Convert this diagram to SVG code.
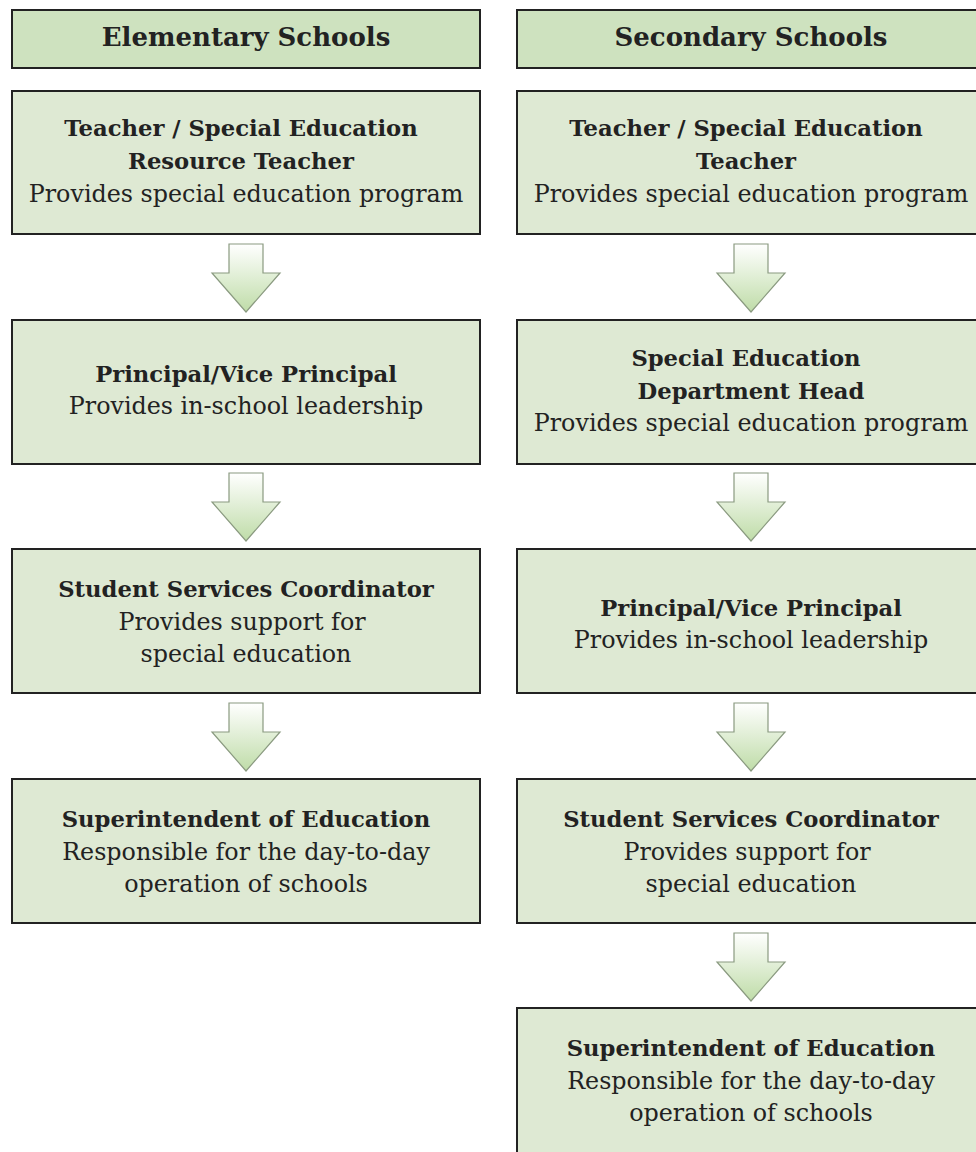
<svg xmlns="http://www.w3.org/2000/svg" width="976" height="1152" viewBox="0 0 976 1152">
<style>
.hdr{fill:#cee2bf;stroke:#222;stroke-width:2}
.box{fill:#dee9d3;stroke:#222;stroke-width:2}
text{font-family:"DejaVu Serif","Liberation Serif",serif;font-size:23.8px;fill:#222;text-anchor:middle}
.b{font-weight:bold;font-size:22.7px}
.h{font-weight:bold;font-size:26px}
.arr{fill:url(#g);stroke:#8a9a80;stroke-width:1.2}
</style>
<defs>
<linearGradient id="g" x1="0" y1="0" x2="0" y2="1">
<stop offset="0" stop-color="#ffffff"/>
<stop offset="1" stop-color="#bfdca8"/>
</linearGradient>
<path id="a" d="M-17,0 H17 V29 H34 L0,68 L-34,29 H-17 Z"/>
</defs>
<rect width="976" height="1152" fill="#fff"/>
<g id="connectors">
<use href="#a" class="arr" x="246" y="244"/>
<use href="#a" class="arr" x="246" y="473"/>
<use href="#a" class="arr" x="246" y="703"/>
<use href="#a" class="arr" x="751" y="244"/>
<use href="#a" class="arr" x="751" y="473"/>
<use href="#a" class="arr" x="751" y="703"/>
<use href="#a" class="arr" x="751" y="933"/>
</g>
<g id="elem-header"><rect class="hdr" x="12" y="10" width="468" height="58"/><text class="h" x="246" y="46">Elementary Schools</text></g>
<g id="sec-header"><rect class="hdr" x="517" y="10" width="468" height="58"/><text class="h" x="751" y="46">Secondary Schools</text></g>
<g id="e1"><rect class="box" x="12" y="91" width="468" height="143"/>
<text class="b" x="241" y="136">Teacher / Special Education</text>
<text class="b" x="241" y="169">Resource Teacher</text>
<text x="246" y="202">Provides special education program</text></g>
<g id="e2"><rect class="box" x="12" y="320" width="468" height="144"/>
<text class="b" x="246" y="382">Principal/Vice Principal</text>
<text x="246" y="414">Provides in-school leadership</text></g>
<g id="e3"><rect class="box" x="12" y="549" width="468" height="144"/>
<text class="b" x="246" y="597">Student Services Coordinator</text>
<text x="242" y="630">Provides support for</text>
<text x="246" y="662">special education</text></g>
<g id="e4"><rect class="box" x="12" y="779" width="468" height="144"/>
<text class="b" x="246" y="827">Superintendent of Education</text>
<text x="246" y="860">Responsible for the day-to-day</text>
<text x="246" y="892">operation of schools</text></g>
<g id="s1"><rect class="box" x="517" y="91" width="468" height="143"/>
<text class="b" x="746" y="136">Teacher / Special Education</text>
<text class="b" x="746" y="169">Teacher</text>
<text x="751" y="202">Provides special education program</text></g>
<g id="s2"><rect class="box" x="517" y="320" width="468" height="144"/>
<text class="b" x="746" y="366">Special Education</text>
<text class="b" x="751" y="399">Department Head</text>
<text x="751" y="431">Provides special education program</text></g>
<g id="s3"><rect class="box" x="517" y="549" width="468" height="144"/>
<text class="b" x="751" y="616">Principal/Vice Principal</text>
<text x="751" y="648">Provides in-school leadership</text></g>
<g id="s4"><rect class="box" x="517" y="779" width="468" height="144"/>
<text class="b" x="751" y="827">Student Services Coordinator</text>
<text x="747" y="860">Provides support for</text>
<text x="751" y="892">special education</text></g>
<g id="s5"><rect class="box" x="517" y="1008" width="468" height="160"/>
<text class="b" x="751" y="1056">Superintendent of Education</text>
<text x="751" y="1089">Responsible for the day-to-day</text>
<text x="751" y="1121">operation of schools</text></g>
</svg>
